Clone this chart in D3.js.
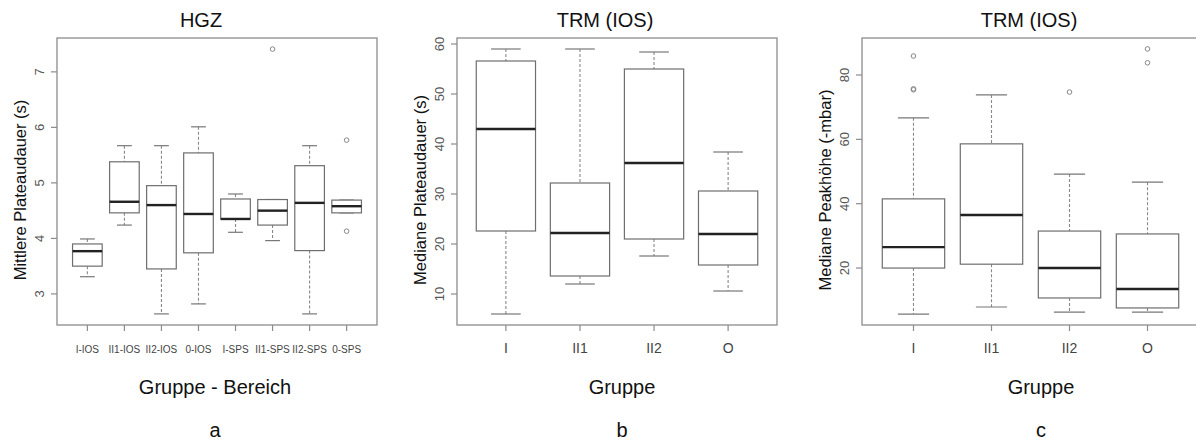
<!DOCTYPE html>
<html>
<head>
<meta charset="utf-8">
<script src="https://cdn.jsdelivr.net/npm/d3@7"></script>
<style>
  body { margin: 0; background: #fff; }
  svg { display: block; font-family: "Liberation Sans", Arial, sans-serif; }
</style>
</head>
<body>
<svg id="chart" width="1196" height="441"></svg>
<script>
// panel a - HGZ
const groupsA = ["I-IOS", "II1-IOS", "II2-IOS", "0-IOS", "I-SPS", "II1-SPS", "II2-SPS", "0-SPS"];
const lowA = [3.31, 4.24, 2.64, 2.82, 4.11, 3.96, 2.64, 4.46];
const q1A = [3.50, 4.46, 3.45, 3.74, 4.35, 4.24, 3.78, 4.46];
const medA = [3.77, 4.66, 4.60, 4.44, 4.35, 4.50, 4.64, 4.58];
const q3A = [3.90, 5.38, 4.95, 5.54, 4.71, 4.70, 5.31, 4.69];
const highA = [3.99, 5.67, 5.67, 6.01, 4.80, 4.70, 5.67, 4.69];
const outA = [[], [], [], [], [], [7.41], [], [5.77, 4.13]];
const ticksA = [3, 4, 5, 6, 7];

// panel b - TRM (IOS) plateau
const groupsB = ["I", "II1", "II2", "O"];
const lowB = [6.0, 12.0, 17.6, 10.6];
const q1B = [22.6, 13.6, 21.0, 15.8];
const medB = [43.0, 22.2, 36.2, 22.0];
const q3B = [56.6, 32.2, 55.0, 30.6];
const highB = [59.0, 59.0, 58.4, 38.4];
const outB = [[], [], [], []];
const ticksB = [10, 20, 30, 40, 50, 60];

// panel c - TRM (IOS) peak
const groupsC = ["I", "II1", "II2", "O"];
const lowC = [5.7, 7.9, 6.3, 6.3];
const q1C = [20.0, 21.2, 10.7, 7.6];
const medC = [26.5, 36.5, 20.0, 13.5];
const q3C = [41.5, 58.6, 31.5, 30.6];
const highC = [66.7, 73.8, 49.2, 46.7];
const outC = [[85.9, 75.7, 75.4], [], [74.7], [88.1, 83.8]];
const ticksC = [20, 40, 60, 80];

const svg = d3.select("#chart");

const panels = [
  {title: "HGZ", ylab: "Mittlere Plateaudauer (s)", xlab: "Gruppe - Bereich", tag: "a",
   groups: groupsA, low: lowA, q1: q1A, med: medA, q3: q3A, high: highA, out: outA, ticks: ticksA,
   ydom: [2.44, 7.61], x0: 57, x1: 377, titleX: 201, xlabX: 215, tickFont: 10},
  {title: "TRM (IOS)", ylab: "Mediane Plateaudauer (s)", xlab: "Gruppe", tag: "b",
   groups: groupsB, low: lowB, q1: q1B, med: medB, q3: q3B, high: highB, out: outB, ticks: ticksB,
   ydom: [3.8, 61.2], x0: 457, x1: 777, titleX: 605, xlabX: 622, tickFont: 14},
  {title: "TRM (IOS)", ylab: "Mediane Peakhöhe (-mbar)", xlab: "Gruppe", tag: "c",
   groups: groupsC, low: lowC, q1: q1C, med: medC, q3: q3C, high: highC, out: outC, ticks: ticksC,
   ydom: [2.3, 91.5], x0: 862, x1: 1199, titleX: 1029, xlabX: 1041, tickFont: 14}
];

const plotTop = 38, plotBottom = 325;

panels.forEach(p => {
  const n = p.groups.length;
  const x = d3.scaleLinear().domain([0.5 - 0.04 * n, n + 0.5 + 0.04 * n]).range([p.x0, p.x1]);
  const y = d3.scaleLinear().domain(p.ydom).range([plotBottom, plotTop]);
  const g = svg.append("g");
  const bw = (x(1.4) - x(0.6));

  // frame
  g.append("rect").attr("x", p.x0).attr("y", plotTop)
    .attr("width", p.x1 - p.x0).attr("height", plotBottom - plotTop)
    .attr("fill", "none").attr("stroke", "#8c8c8c").attr("stroke-width", 1.3);

  // y ticks
  p.ticks.forEach(t => {
    g.append("line").attr("x1", p.x0 - 6).attr("x2", p.x0)
      .attr("y1", y(t)).attr("y2", y(t)).attr("stroke", "#8c8c8c").attr("stroke-width", 1.2);
    g.append("text").attr("transform", `translate(${p.x0 - 13},${y(t)}) rotate(-90)`)
      .attr("text-anchor", "middle").attr("font-size", 13).attr("fill", "#555")
      .text(t);
  });

  // x ticks
  p.groups.forEach((c, i) => {
    const cx = x(i + 1);
    g.append("line").attr("x1", cx).attr("x2", cx)
      .attr("y1", plotBottom).attr("y2", plotBottom + 6).attr("stroke", "#8c8c8c").attr("stroke-width", 1.2);
    g.append("text").attr("x", cx).attr("y", 353).attr("text-anchor", "middle")
      .attr("font-size", p.tickFont).attr("fill", "#444").text(c);

    const w = g.append("g");
    // whiskers
    w.append("line").attr("x1", cx).attr("x2", cx).attr("y1", y(p.high[i])).attr("y2", y(p.q3[i]))
      .attr("stroke", "#888").attr("stroke-dasharray", "3,2").attr("stroke-width", 1.1);
    w.append("line").attr("x1", cx).attr("x2", cx).attr("y1", y(p.q1[i])).attr("y2", y(p.low[i]))
      .attr("stroke", "#888").attr("stroke-dasharray", "3,2").attr("stroke-width", 1.1);
    [p.high[i], p.low[i]].forEach(v => {
      w.append("line").attr("x1", cx - bw / 4).attr("x2", cx + bw / 4)
        .attr("y1", y(v)).attr("y2", y(v)).attr("stroke", "#777").attr("stroke-width", 1.2);
    });
    // box
    w.append("rect").attr("x", cx - bw / 2).attr("y", y(p.q3[i]))
      .attr("width", bw).attr("height", y(p.q1[i]) - y(p.q3[i]))
      .attr("fill", "#fff").attr("stroke", "#6e6e6e").attr("stroke-width", 1.2);
    w.append("line").attr("x1", cx - bw / 2).attr("x2", cx + bw / 2)
      .attr("y1", y(p.med[i])).attr("y2", y(p.med[i]))
      .attr("stroke", "#222").attr("stroke-width", 2.4);
    // outliers
    p.out[i].forEach(v => {
      w.append("circle").attr("cx", cx).attr("cy", y(v)).attr("r", 2.3)
        .attr("fill", "none").attr("stroke", "#888").attr("stroke-width", 1);
    });
  });

  // titles
  g.append("text").attr("x", p.titleX).attr("y", 27).attr("text-anchor", "middle")
    .attr("font-size", 20).attr("fill", "#111").text(p.title);
  g.append("text").attr("x", p.xlabX).attr("y", 394).attr("text-anchor", "middle")
    .attr("font-size", 20).attr("fill", "#111").text(p.xlab);
  g.append("text").attr("x", p.xlabX).attr("y", 437).attr("text-anchor", "middle")
    .attr("font-size", 20).attr("fill", "#111").text(p.tag);
  g.append("text").attr("transform", `translate(${p.x0 - 31},190) rotate(-90)`)
    .attr("text-anchor", "middle").attr("font-size", 16.5).attr("fill", "#111").text(p.ylab);
});
</script>
</body>
</html>
